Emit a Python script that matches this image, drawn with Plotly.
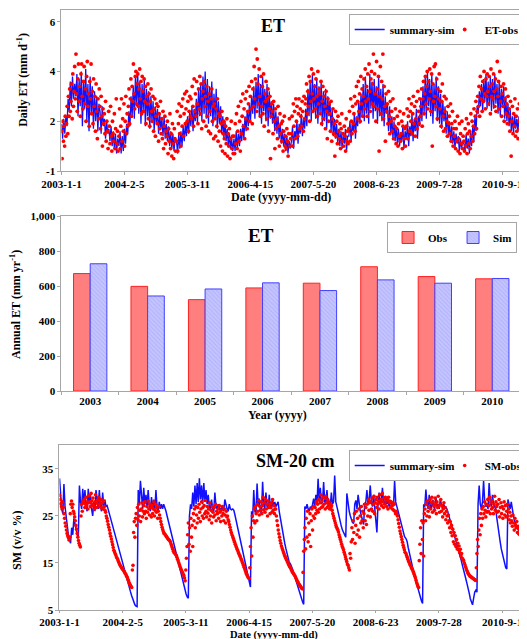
import pandas as pd
import plotly.graph_objects as go

FONT = "Liberation Serif"
YEARS = [2003, 2004, 2005, 2006, 2007, 2008, 2009, 2010]

# ---------------- Daily ET (mm/d) ----------------
# simulated ET, read weekly (Jan..Dec)
et_sim_2003 = [1.9, 1.3, 2.1, 1.5, 2.2, 1.8, 2.9, 2.4, 3.6, 2.6, 3.8, 2.9, 3.5, 3.0, 3.9, 2.2, 3.7,
               2.6, 4.0, 1.8, 3.6, 2.5, 4.1, 2.0, 3.5, 1.6, 3.8, 2.3, 3.4, 1.7, 3.2, 2.0, 3.0, 1.6, 2.7,
               2.4, 1.5, 2.6, 1.8, 2.1, 1.3, 2.0, 1.5, 1.7, 1.2, 1.8, 1.0, 1.6, 0.9, 1.5, 0.7, 1.3]
et_sim_2004 = [1.0, 1.6, 0.7, 1.4, 0.8, 1.7, 1.1, 1.9, 1.5, 2.4, 1.8, 3.0, 2.2, 3.4, 2.1, 3.8, 2.6,
               4.0, 2.3, 3.6, 1.9, 3.5, 2.4, 3.7, 1.8, 3.3, 2.2, 3.2, 1.7, 3.0, 2.0, 2.8, 1.6, 2.6, 1.9,
               2.5, 1.5, 2.3, 1.7, 2.1, 1.4, 2.2, 1.3, 1.9, 1.2, 1.8, 1.0, 1.6, 0.9, 1.5, 0.8, 1.3]
et_sim_2005 = [1.2, 0.7, 1.5, 0.9, 1.6, 1.0, 1.8, 1.2, 1.9, 1.4, 2.2, 1.5, 2.4, 1.8, 2.6, 1.6, 2.5,
               2.0, 2.9, 1.9, 3.3, 2.2, 3.5, 2.0, 3.8, 2.3, 4.0, 2.1, 3.7, 1.9, 3.4, 2.2, 3.6, 1.8, 3.1,
               2.1, 3.3, 1.7, 2.8, 1.9, 2.6, 1.5, 2.2, 1.3, 2.0, 1.2, 1.7, 1.0, 1.5, 0.9, 1.3, 0.8]
et_sim_2006 = [1.3, 0.8, 1.6, 0.9, 1.5, 1.0, 1.7, 1.2, 1.9, 1.3, 2.2, 1.6, 2.4, 1.8, 2.7, 2.0, 3.0,
               2.3, 3.4, 2.1, 3.6, 2.5, 3.9, 2.2, 3.5, 1.9, 3.8, 2.4, 3.3, 2.0, 3.5, 1.8, 3.2, 2.1, 2.8,
               1.9, 2.7, 1.6, 2.4, 1.5, 2.2, 1.3, 1.9, 1.1, 1.7, 1.0, 1.5, 0.8, 1.4, 0.7, 1.2, 0.9]
et_sim_2007 = [1.2, 1.8, 0.9, 1.6, 1.3, 2.0, 1.1, 1.9, 1.5, 2.3, 1.4, 2.1, 1.7, 2.5, 1.8, 3.3, 2.2,
               3.6, 2.0, 3.9, 2.4, 3.5, 2.1, 3.7, 1.9, 3.4, 2.3, 3.6, 1.8, 3.2, 2.0, 3.3, 1.7, 3.0, 2.2,
               2.8, 1.6, 2.5, 1.4, 2.1, 1.3, 1.9, 1.1, 1.7, 1.0, 1.6, 0.9, 1.5, 1.1, 1.7, 0.8, 1.4]
et_sim_2008 = [1.4, 2.0, 1.2, 1.9, 1.6, 2.3, 1.3, 2.2, 1.8, 2.8, 1.9, 3.1, 2.2, 3.5, 2.0, 3.8, 2.3,
               3.3, 1.9, 3.9, 2.5, 3.6, 2.1, 3.7, 2.4, 3.4, 1.9, 3.8, 2.2, 3.3, 2.0, 3.5, 1.8, 3.0, 2.3,
               2.7, 1.6, 2.6, 1.5, 2.2, 1.3, 2.0, 1.2, 1.8, 1.1, 1.7, 1.0, 1.5, 1.2, 1.8, 0.9, 1.6]
et_sim_2009 = [1.3, 2.0, 1.0, 1.8, 1.4, 2.3, 1.2, 2.1, 1.6, 2.5, 1.3, 2.2, 1.8, 2.9, 2.0, 3.4, 2.3,
               3.8, 2.1, 4.0, 2.6, 3.7, 2.2, 3.9, 1.9, 3.5, 2.4, 3.8, 2.0, 3.4, 1.9, 3.1, 1.7, 2.8, 2.0,
               2.6, 1.5, 2.4, 1.4, 2.0, 1.2, 1.8, 1.1, 1.6, 0.9, 1.5, 1.1, 1.4, 0.8, 1.3, 0.9, 1.2]
et_sim_2010 = [1.1, 0.8, 1.5, 0.9, 1.3, 0.7, 1.6, 1.0, 1.8, 1.2, 2.2, 1.6, 2.6, 2.3, 3.2, 2.6, 3.5,
               2.4, 3.7, 2.8, 3.9, 2.5, 3.6, 2.6, 3.8, 2.4, 3.7, 2.5, 3.9, 2.7, 3.5, 2.3, 3.6, 2.2, 3.3,
               2.6, 3.4, 2.1, 3.0, 2.0, 2.7, 1.8, 2.5, 1.6, 2.2, 1.5, 2.3, 1.7, 2.1, 1.6, 2.2, 1.8]

# observed ET, read every 4 days (Jan..Dec)
et_obs_2003 = [1.6, 0.5, 2.0, 1.2, 1.8, 1.0, 2.2, 1.4, 1.9, 2.6, 1.5, 3.0, 2.2, 3.3, 2.4,
               2.8, 3.5, 2.1, 3.9, 2.6, 3.2, 4.2, 2.9, 4.7, 3.1, 2.4, 3.7, 4.3, 2.8, 3.4,
               2.2, 3.9, 4.3, 3.0, 2.5, 3.6, 4.2, 2.7, 3.3, 2.0, 3.8, 4.4, 2.6, 3.1, 1.8,
               3.6, 2.9, 4.3, 2.3, 3.2, 1.9, 3.7, 2.6, 3.0, 1.6, 3.5, 2.4, 1.3, 2.9, 2.1, 3.3,
               2.6, 1.7, 3.0, 2.2, 1.0, 2.5, 1.9, 2.3, 1.5, 2.8, 1.2, 2.0, 1.6, 0.9, 2.4,
               1.8, 1.1, 2.6, 1.4, 0.8, 2.0, 1.5, 1.2, 2.3, 0.9, 1.7, 2.9, 1.1, 1.6, 0.8]
et_obs_2004 = [1.4, 2.5, 0.9, 1.8, 2.9, 1.2, 2.1, 1.6, 2.7, 1.0, 2.0, 3.0, 1.5, 2.3, 1.8,
               2.6, 3.3, 1.9, 2.9, 3.7, 2.2, 3.4, 2.8, 4.3, 3.1, 2.5, 3.8, 4.0, 2.7, 3.5,
               3.9, 2.6, 3.3, 4.1, 2.9, 3.6, 2.3, 3.8, 3.2, 2.4, 3.7, 2.8, 3.4, 1.9, 3.0,
               2.7, 3.5, 2.1, 3.1, 1.8, 2.8, 3.3, 2.4, 2.0, 3.0, 1.6, 2.5, 2.9, 1.4, 2.2, 2.7,
               1.9, 2.6, 1.2, 2.3, 1.7, 2.8, 1.5, 2.1, 1.3, 2.4, 0.9, 1.8, 2.2, 1.1, 1.6,
               1.4, 2.0, 0.7, 1.7, 1.2, 2.3, 0.9, 1.5, 0.6, 1.9, 1.1, 0.5, 1.7, 1.3, 0.8]
et_obs_2005 = [1.2, 2.4, 0.8, 1.9, 2.7, 1.5, 2.2, 1.0, 2.6, 1.8, 2.9, 1.4, 2.3, 3.1, 1.9,
               2.5, 3.2, 2.0, 2.8, 1.6, 2.4, 3.0, 2.2, 2.9, 2.1, 3.4, 2.6, 1.8, 3.7, 2.4,
               3.1, 2.2, 3.6, 2.7, 1.9, 3.3, 2.5, 3.8, 2.3, 3.5, 1.7, 2.9, 3.2, 2.0, 3.6,
               2.6, 3.0, 1.8, 3.4, 2.2, 2.8, 1.6, 3.1, 2.4, 1.5, 2.9, 3.3, 2.0, 2.6, 1.3, 2.7,
               2.1, 1.4, 2.5, 1.8, 2.9, 1.2, 2.3, 1.6, 2.2, 1.0, 1.9, 2.4, 0.8, 1.5, 2.0,
               1.3, 0.7, 1.8, 1.1, 2.1, 0.6, 1.5, 1.0, 1.7, 0.5, 1.3, 2.0, 0.9, 1.4, 0.7]
et_obs_2006 = [1.4, 0.7, 1.9, 1.1, 2.3, 0.9, 1.6, 2.6, 1.2, 2.0, 0.8, 2.8, 1.5, 2.2, 3.1,
               1.8, 2.5, 1.3, 2.9, 2.1, 3.2, 1.7, 2.4, 2.7, 3.4, 2.0, 3.0, 2.5, 3.6, 1.9,
               3.3, 2.6, 4.2, 2.9, 3.7, 4.9, 2.4, 4.5, 3.5, 2.7, 4.1, 3.0, 2.2, 3.8, 2.6,
               3.4, 2.3, 3.9, 1.8, 3.1, 2.8, 3.6, 2.1, 2.9, 3.3, 1.6, 2.5, 3.0, 0.5, 2.2, 2.7,
               2.4, 1.5, 2.8, 2.0, 0.9, 2.5, 1.7, 2.1, 1.3, 2.6, 1.8, 1.0, 2.3, 1.5, 1.9,
               1.2, 2.0, 0.8, 1.6, 2.2, 1.0, 1.4, 0.9, 1.7, 1.2, 0.6, 1.5, 2.1, 1.0, 1.3]
et_obs_2007 = [1.5, 2.2, 1.0, 2.7, 1.8, 2.4, 1.3, 2.9, 2.0, 2.6, 1.4, 2.3, 2.9, 1.7, 2.5,
               2.2, 1.8, 2.8, 2.4, 1.6, 3.0, 2.1, 2.7, 2.9, 3.5, 2.3, 3.2, 2.6, 3.8, 2.0,
               3.6, 2.8, 4.1, 3.1, 2.4, 3.9, 2.9, 3.4, 2.5, 3.7, 3.0, 2.2, 4.0, 2.7, 3.3,
               3.1, 2.3, 3.6, 1.9, 2.8, 3.4, 2.1, 3.0, 2.6, 1.7, 3.2, 2.4, 1.3, 2.9, 2.0, 2.7,
               2.3, 1.6, 2.8, 1.2, 2.1, 2.5, 1.5, 1.9, 0.6, 2.4, 1.4, 2.0, 1.1, 2.2, 1.6,
               1.3, 1.9, 0.9, 1.7, 2.3, 1.2, 1.5, 1.0, 1.8, 1.4, 0.8, 2.1, 1.2, 1.6, 1.1]
et_obs_2008 = [1.7, 2.4, 1.2, 2.9, 2.0, 1.5, 2.6, 1.9, 2.3, 3.0, 1.6, 2.7, 3.4, 2.1, 2.8,
               3.6, 2.4, 3.1, 2.0, 3.8, 2.7, 3.3, 2.2, 3.0, 3.7, 2.5, 4.1, 2.8, 3.4, 2.2,
               3.9, 2.9, 4.3, 3.2, 2.4, 3.7, 4.0, 2.7, 3.5, 4.7, 2.6, 3.9, 3.1, 2.0, 4.4,
               3.3, 2.5, 3.8, 0.8, 3.0, 4.2, 2.3, 3.6, 2.9, 4.7, 2.1, 3.4, 2.6, 1.2, 3.1, 2.4,
               2.7, 1.9, 3.2, 2.2, 1.5, 2.8, 2.0, 2.4, 1.6, 2.9, 1.3, 2.1, 1.8, 2.5, 1.1,
               1.7, 2.2, 1.0, 1.9, 1.4, 2.4, 1.2, 1.5, 2.0, 0.9, 1.8, 2.3, 1.3, 1.7, 1.0]
et_obs_2009 = [1.8, 2.5, 1.3, 2.2, 2.9, 1.6, 2.4, 2.0, 2.7, 1.5, 2.3, 3.0, 1.9, 2.6, 1.4,
               2.1, 2.8, 1.7, 3.2, 2.4, 1.9, 2.9, 2.2, 2.6, 3.3, 1.8, 2.9, 3.6, 2.3, 3.1,
               3.8, 2.7, 3.4, 4.0, 2.5, 3.6, 2.9, 4.1, 3.2, 2.4, 3.9, 1.0, 3.5, 2.8, 4.2,
               3.0, 4.3, 2.6, 3.7, 2.1, 3.3, 2.9, 3.9, 2.5, 3.2, 1.8, 2.8, 3.5, 2.2, 1.6, 3.0,
               2.4, 1.7, 2.9, 2.0, 1.4, 2.6, 1.9, 2.2, 1.5, 2.7, 1.2, 1.9, 2.4, 1.0, 1.7,
               1.4, 2.0, 0.9, 1.7, 1.2, 2.2, 0.8, 1.3, 1.9, 0.7, 1.5, 1.1, 2.0, 0.9, 1.4]
et_obs_2010 = [1.2, 0.8, 1.7, 1.0, 2.1, 0.7, 1.5, 1.9, 1.1, 1.6, 0.9, 2.3, 1.4, 2.0, 1.2,
               1.8, 2.5, 1.5, 2.2, 2.8, 1.7, 2.4, 3.0, 2.6, 3.4, 2.2, 3.8, 2.9, 3.3, 2.4,
               3.6, 2.8, 4.0, 3.1, 2.5, 3.7, 3.0, 3.9, 3.2, 2.7, 3.8, 3.4, 2.3, 4.1, 3.0,
               3.5, 2.9, 3.9, 3.2, 2.6, 3.7, 2.4, 3.3, 4.4, 3.0, 3.6, 2.5, 4.0, 2.8, 3.4, 2.2,
               3.1, 2.6, 3.5, 2.0, 2.9, 3.3, 2.3, 2.7, 1.9, 3.0, 2.2, 2.5, 1.6, 2.8, 0.6,
               2.0, 2.6, 1.5, 2.3, 1.8, 2.9, 1.4, 2.2, 1.6, 2.5, 1.3, 2.0, 2.7, 1.7, 2.1]

# ---------------- Annual ET (mm/yr) ----------------
annual_years = ["2003", "2004", "2005", "2006", "2007", "2008", "2009", "2010"]
annual_obs = [671, 598, 522, 589, 616, 710, 654, 641]
annual_sim = [727, 543, 583, 618, 574, 635, 616, 643]

# ---------------- Soil moisture at 20 cm (v/v %) ----------------
# simulated SM, read weekly
sm_sim_2003 = [33.0, 28.5, 26.5, 25.5, 31.8, 27.0, 24.5, 22.5, 21.0, 20.0, 19.2, 22.5, 21.0, 24.5,
               23.0, 21.5, 21.0, 20.5, 31.5, 28.0, 26.5, 30.8, 27.5, 30.5, 27.0, 26.0, 30.8, 27.5,
               29.5, 26.5, 25.0, 28.0, 26.0, 30.5, 27.5, 26.5, 30.5, 27.0, 26.0, 30.0, 27.0, 28.5,
               27.0, 27.2, 26.4, 25.5, 24.6, 23.8, 22.9, 22.0, 21.2, 20.3]
sm_sim_2004 = [19.4, 18.5, 17.6, 16.8, 15.9, 15.0, 14.1, 13.3, 12.4, 11.5, 10.7, 9.8, 8.9, 8.1,
               7.3, 6.6, 6.1, 5.8, 5.7, 30.5, 27.5, 32.5, 28.0, 26.5, 31.0, 27.5, 29.5, 26.8,
               30.5, 27.0, 26.0, 29.0, 26.5, 28.5, 26.0, 30.5, 27.0, 26.0, 28.0, 26.5, 27.5, 26.5,
               27.5, 26.9, 26.1, 25.1, 24.1, 23.1, 22.2, 21.2, 20.2, 19.2]
sm_sim_2005 = [18.3, 17.3, 16.3, 15.3, 14.4, 13.4, 12.4, 11.4, 10.4, 9.4, 8.4, 7.8, 7.5, 25.0,
               27.5, 26.5, 30.0, 27.0, 31.5, 27.5, 32.0, 28.0, 33.0, 28.5, 31.5, 27.5, 32.0, 28.0,
               30.5, 27.5, 29.5, 26.8, 26.5, 28.5, 26.5, 26.0, 30.0, 27.0, 26.5, 27.5, 26.5, 26.0,
               27.0, 26.5, 26.0, 28.5, 27.0, 26.5, 26.0, 27.5, 26.5, 26.3]
sm_sim_2006 = [26.5, 26.2, 25.2, 24.1, 23.0, 21.9, 20.7, 19.6, 18.4, 17.3, 16.1, 15.0, 13.8, 12.6,
               11.5, 10.5, 9.9, 26.0, 24.5, 30.5, 26.0, 25.5, 31.9, 27.0, 28.7, 26.0, 25.5, 32.3,
               27.5, 26.5, 30.0, 27.0, 26.5, 29.5, 27.0, 26.5, 28.5, 27.0, 28.0, 27.0, 27.5, 28.0,
               26.0, 24.5, 22.8, 21.5, 20.3, 19.2, 18.1, 17.1, 16.2, 15.2]
sm_sim_2007 = [14.8, 14.3, 13.6, 12.8, 12.0, 11.3, 10.5, 9.7, 8.9, 8.0, 7.3, 6.7, 6.2, 27.0,
               26.5, 27.5, 26.5, 26.0, 27.0, 26.5, 27.5, 28.7, 27.0, 29.5, 27.5, 32.9, 28.0, 31.0,
               27.5, 28.0, 32.2, 28.0, 27.5, 30.5, 27.5, 28.0, 27.0, 30.0, 27.5, 28.0, 33.6, 28.0,
               27.0, 25.8, 24.6, 23.7, 22.8, 22.0, 21.4, 20.8, 20.5, 29.8]
sm_sim_2008 = [27.5, 26.0, 25.0, 24.2, 23.6, 23.4, 27.5, 28.3, 26.5, 29.5, 27.0, 26.0, 25.0, 24.0,
               23.2, 27.5, 28.0, 30.5, 27.5, 28.5, 31.5, 28.0, 27.0, 29.5, 26.5, 24.0, 21.5, 27.5,
               30.0, 27.5, 28.0, 31.0, 28.0, 27.5, 29.0, 27.5, 28.5, 27.0, 28.0, 27.5, 28.0, 27.0,
               32.5, 28.0, 27.0, 26.0, 25.0, 24.0, 23.0, 22.2, 21.4, 20.6]
sm_sim_2009 = [20.2, 19.6, 18.3, 17.1, 16.0, 14.9, 13.9, 13.0, 12.0, 11.1, 10.2, 9.3, 8.4, 7.6,
               6.9, 6.4, 27.5, 27.0, 30.6, 27.5, 26.5, 29.5, 27.0, 26.5, 28.5, 27.0, 26.5, 29.0,
               27.0, 27.5, 26.5, 28.5, 27.0, 26.5, 27.5, 27.0, 26.9, 26.5, 25.7, 24.9, 24.0, 23.2,
               22.4, 21.5, 20.7, 19.9, 19.0, 18.2, 17.4, 16.6, 15.5, 14.5]
sm_sim_2010 = [13.6, 12.6, 11.6, 10.6, 9.8, 8.6, 7.4, 6.5, 6.1, 7.5, 8.8, 9.2, 8.8, 27.5,
               31.5, 27.5, 26.5, 28.0, 32.5, 28.0, 27.0, 27.5, 26.5, 32.0, 28.0, 27.0, 29.5, 27.5,
               27.0, 26.5, 24.5, 22.5, 21.0, 19.5, 18.0, 16.8, 15.6, 14.8, 14.0, 13.7, 28.5, 27.5,
               26.5, 28.0, 26.0, 25.0, 24.0, 23.3, 22.7, 22.2, 21.8, 21.5]

# observed SM, read every 4 days
sm_obs_2003 = [29.4, 28.5, 27.6, 27.0, 26.5, 28.0, 26.8, 25.5, 24.5, 23.5, 22.8, 22.0, 21.3, 20.8, 20.4,
               19.9, 20.5, 25.5, 27.5, 28.2, 26.8, 27.5, 26.0, 25.5, 24.8, 24.0, 23.0, 22.2, 21.3, 20.5,
               19.8, 19.2, 18.8, 18.4, 25.0, 27.5, 26.0, 28.0, 27.8, 28.5, 26.8, 27.5, 29.0, 27.2, 28.0,
               26.5, 27.8, 29.3, 28.0, 27.0, 29.8, 28.2, 27.5, 28.8, 27.2, 26.5, 28.0, 29.5, 27.8, 26.8, 28.4,
               27.5, 29.0, 28.2, 26.9, 27.6, 28.5, 26.7, 27.8, 26.5, 28.2, 27.0, 26.2, 25.8, 25.0, 24.5,
               23.9, 23.2, 22.6, 22.0, 21.3, 20.7, 20.1, 19.5, 18.9, 18.3, 17.7, 17.4, 17.0, 16.7, 16.3]
sm_obs_2004 = [16.0, 15.7, 15.3, 15.0, 14.7, 14.4, 14.2, 14.0, 13.8, 13.6, 13.4, 13.2, 12.9, 12.7, 12.5,
               12.2, 11.9, 11.5, 11.2, 10.8, 10.5, 10.2, 10.0, 9.8, 13.5, 14.5, 21.5, 23.8, 20.5, 24.5,
               25.5, 23.0, 26.8, 24.2, 27.5, 25.0, 26.2, 23.8, 26.5, 27.8, 24.8, 26.0, 27.2, 25.5, 28.0,
               26.0, 24.5, 27.0, 25.8, 28.2, 26.5, 25.2, 27.5, 26.8, 24.8, 27.2, 25.5, 26.5, 28.0, 25.0, 26.2,
               27.5, 25.8, 26.8, 24.5, 26.0, 27.0, 25.2, 24.5, 23.8, 23.2, 22.6, 22.1, 21.7, 21.3, 21.2,
               21.0, 20.8, 20.6, 20.4, 20.2, 20.0, 19.9, 19.8, 19.5, 19.1, 18.7, 18.3, 17.9, 17.5, 17.2]
sm_obs_2005 = [17.0, 16.8, 16.6, 16.2, 15.8, 15.4, 15.0, 14.6, 14.2, 13.8, 13.5, 13.2, 12.9, 12.6, 12.3,
               11.8, 11.2, 13.5, 16.0, 18.5, 21.0, 23.5, 19.0, 22.5, 17.5, 24.5, 20.5, 23.0, 18.5, 25.5,
               24.0, 26.5, 22.5, 27.0, 25.2, 23.5, 26.8, 24.5, 27.5, 25.8, 23.8, 26.5, 28.0, 25.0, 26.8,
               24.5, 27.2, 25.5, 28.3, 26.0, 24.8, 27.0, 25.6, 26.5, 24.2, 27.8, 25.0, 26.2, 23.5, 27.0, 25.8,
               24.8, 26.8, 25.2, 27.5, 24.0, 26.0, 25.5, 26.5, 24.5, 27.2, 25.8, 23.8, 26.2, 25.0, 27.0,
               25.5, 24.0, 26.5, 25.2, 23.5, 26.0, 24.8, 25.0, 24.2, 23.8, 23.2, 22.6, 22.0, 21.5, 21.0]
sm_obs_2006 = [20.6, 20.2, 19.8, 19.4, 19.0, 18.6, 18.3, 17.9, 17.6, 17.2, 16.9, 16.6, 16.3, 15.9, 15.6,
               15.2, 14.9, 14.5, 14.1, 13.7, 13.3, 12.9, 12.6, 12.3, 12.0, 11.8, 11.7, 14.0, 18.5, 22.5,
               16.5, 25.0, 20.5, 24.0, 26.5, 23.5, 27.0, 25.5, 24.0, 27.5, 26.0, 28.3, 25.2, 27.0, 26.2,
               28.0, 25.5, 27.2, 29.0, 26.3, 27.8, 25.8, 28.5, 26.5, 27.5, 25.0, 28.2, 26.8, 27.5, 25.5, 26.8,
               27.8, 25.8, 28.5, 26.2, 27.2, 25.5, 26.5, 26.5, 25.0, 24.0, 23.0, 22.0, 21.2, 20.5, 19.8,
               19.2, 18.6, 18.2, 17.8, 17.4, 17.0, 16.6, 16.3, 16.0, 15.7, 15.4, 15.1, 14.8, 14.5, 14.2]
sm_obs_2007 = [14.0, 13.7, 13.4, 13.1, 12.9, 12.7, 12.5, 12.3, 12.0, 11.7, 11.4, 11.1, 10.9, 10.6, 10.4,
               10.2, 10.0, 9.8, 9.6, 9.5, 13.0, 17.5, 20.0, 22.5, 18.0, 24.5, 20.5, 26.0, 19.5, 23.5,
               21.0, 25.5, 18.5, 24.0, 26.5, 22.0, 25.0, 27.0, 24.5, 26.8, 25.5, 28.0, 26.2, 27.5, 25.8,
               28.5, 26.5, 27.8, 29.5, 26.8, 28.2, 27.0, 29.0, 27.5, 28.8, 26.5, 29.2, 27.8, 26.8, 28.5, 27.2,
               28.0, 26.5, 27.5, 26.8, 27.2, 26.2, 25.5, 25.0, 24.5, 24.0, 23.5, 23.0, 22.6, 22.3, 22.0,
               21.6, 21.0, 20.5, 20.0, 19.5, 19.0, 18.5, 18.2, 17.8, 17.3, 16.8, 16.3, 15.8, 15.3, 14.8]
sm_obs_2008 = [14.5, 14.0, 13.5, 17.0, 16.0, 19.5, 22.5, 20.0, 24.0, 21.5, 25.5, 19.2, 23.0, 26.0, 21.0,
               24.5, 22.0, 26.5, 20.5, 25.0, 23.5, 27.0, 24.0, 26.0, 22.5, 25.5, 27.5, 24.0, 26.8, 23.2,
               27.5, 25.0, 28.5, 26.2, 27.8, 24.8, 28.0, 26.5, 28.8, 26.0, 27.5, 29.2, 25.5, 27.8, 28.5,
               26.8, 29.0, 27.5, 28.2, 26.5, 29.5, 27.8, 28.5, 27.2, 29.8, 28.0, 26.8, 28.8, 27.5, 29.0, 28.2,
               27.0, 28.5, 26.5, 29.0, 27.8, 28.2, 26.8, 28.0, 27.2, 26.5, 27.8, 26.2, 27.5, 26.0, 25.5,
               26.0, 25.5, 25.0, 24.2, 23.4, 22.6, 21.8, 21.2, 20.6, 20.0, 19.4, 18.8, 18.3, 17.8, 17.3]
sm_obs_2009 = [17.0, 16.6, 16.2, 15.8, 15.4, 15.1, 14.8, 14.5, 14.2, 13.9, 13.6, 13.3, 13.0, 12.6, 12.2,
               11.8, 11.3, 10.8, 10.4, 10.0, 9.8, 15.5, 19.0, 22.5, 17.0, 24.0, 20.0, 23.5, 16.5, 25.5,
               26.5, 24.0, 27.5, 25.0, 28.2, 26.0, 27.0, 24.8, 28.5, 26.5, 27.8, 29.0, 25.8, 28.0, 27.2,
               26.2, 28.8, 27.5, 25.5, 28.0, 26.8, 29.2, 27.0, 25.8, 27.5, 28.5, 26.0, 27.2, 24.8, 26.5, 27.8,
               25.5, 26.8, 24.2, 26.0, 25.0, 23.5, 25.2, 24.0, 22.5, 23.8, 21.5, 23.0, 20.8, 22.2, 19.5,
               21.5, 19.0, 20.8, 18.5, 20.0, 18.0, 19.2, 17.8, 18.6, 17.2, 17.9, 16.5, 17.0, 16.0, 15.8]
sm_obs_2010 = [15.5, 15.0, 14.6, 14.2, 13.8, 13.4, 13.1, 12.8, 12.6, 12.4, 12.2, 12.1, 12.0, 11.9, 11.8,
               11.7, 11.6, 11.5, 11.4, 11.3, 14.0, 17.0, 20.0, 18.5, 22.0, 24.5, 21.0, 25.5, 23.0, 26.5,
               24.5, 27.0, 25.5, 28.0, 26.2, 24.8, 27.5, 25.8, 28.5, 26.0, 27.2, 29.0, 25.5, 27.8, 26.5,
               28.2, 26.8, 25.5, 27.5, 29.2, 26.2, 28.0, 27.0, 25.8, 27.5, 26.0, 28.5, 24.8, 26.8, 27.8, 25.5,
               27.0, 24.5, 26.5, 28.0, 25.2, 27.2, 24.8, 26.0, 27.5, 25.0, 26.5, 24.2, 25.8, 23.5, 25.0,
               24.0, 22.8, 25.2, 23.5, 22.0, 24.5, 23.0, 22.5, 23.8, 21.5, 22.8, 21.2, 22.2, 21.0, 21.8]

# ---------------- tick labels ----------------
date_tick_vals = ["2003-01-01", "2004-02-05", "2005-03-11", "2006-04-15",
                  "2007-05-20", "2008-06-23", "2009-07-28", "2010-09-01"]
date_tick_text = ["2003-1-1", "2004-2-5", "2005-3-11", "2006-4-15",
                  "2007-5-20", "2008-6-23", "2009-7-28", "2010-9-1"]
et_tick_vals = [0, 2, 4, 6]
et_tick_text = ["-1", "2", "4", "6"]
sm_tick_vals = [5, 15, 25, 35]


def stack(series, step):
    xs, ys = [], []
    for year, vals in zip(YEARS, series):
        xs.extend(pd.date_range(f"{year}-01-01", periods=len(vals), freq=step))
        ys.extend(vals)
    return xs, ys


et_sim_x, et_sim_y = stack([et_sim_2003, et_sim_2004, et_sim_2005, et_sim_2006,
                            et_sim_2007, et_sim_2008, et_sim_2009, et_sim_2010], "7D")
et_obs_x, et_obs_y = stack([et_obs_2003, et_obs_2004, et_obs_2005, et_obs_2006,
                            et_obs_2007, et_obs_2008, et_obs_2009, et_obs_2010], "4D")
sm_sim_x, sm_sim_y = stack([sm_sim_2003, sm_sim_2004, sm_sim_2005, sm_sim_2006,
                            sm_sim_2007, sm_sim_2008, sm_sim_2009, sm_sim_2010], "7D")
sm_obs_x, sm_obs_y = stack([sm_obs_2003, sm_obs_2004, sm_obs_2005, sm_obs_2006,
                            sm_obs_2007, sm_obs_2008, sm_obs_2009, sm_obs_2010], "4D")

# the page body has an 8 px margin; the figure is sized to fill the rest of the window
OFF = 8
W, H = 527 - OFF, 639 - OFF


def px(x):
    return (x - OFF) / W


def py(y):
    return 1 - (y - OFF) / H


BLUE = "#1010FF"
RED = "#FF0000"
AX = "#A6A6A6"

fig = go.Figure()
fig.add_trace(go.Scatter(x=et_sim_x, y=et_sim_y, mode="lines", name="summary-sim", legendwidth=50,
                         line=dict(color=BLUE, width=1.3), xaxis="x", yaxis="y", legend="legend"))
fig.add_trace(go.Scatter(x=et_obs_x, y=et_obs_y, mode="markers", name="ET-obs", legendwidth=33,
                         marker=dict(color=RED, size=3.8), xaxis="x", yaxis="y", legend="legend"))
fig.add_trace(go.Bar(x=annual_years, y=annual_obs, name="Obs", xaxis="x2", yaxis="y2", legend="legend2",
                     legendwidth=20, marker=dict(color="#FF7F7F", line=dict(color="#FF2020", width=1))))
fig.add_trace(go.Bar(x=annual_years, y=annual_sim, name="Sim", xaxis="x2", yaxis="y2", legend="legend2",
                     legendwidth=18,
                     marker=dict(color="#BDBDFF", line=dict(color="#4040FF", width=1),
                                 pattern=dict(shape="\\", fgcolor="#9C9CF2", bgcolor="#C4C4FF",
                                              size=3, solidity=0.3))))
fig.add_trace(go.Scatter(x=sm_sim_x, y=sm_sim_y, mode="lines", name="summary-sim", legendwidth=50,
                         line=dict(color=BLUE, width=1.5), xaxis="x3", yaxis="y3", legend="legend3"))
fig.add_trace(go.Scatter(x=sm_obs_x, y=sm_obs_y, mode="markers", name="SM-obs", legendwidth=36,
                         marker=dict(color=RED, size=3.6), xaxis="x3", yaxis="y3", legend="legend3"))

tickfont = dict(family=FONT, size=11, color="black", weight="bold")
common = dict(showline=True, linecolor=AX, linewidth=1, mirror=True, ticks="outside", ticklen=3,
              tickcolor=AX, showgrid=False, zeroline=False, tickfont=tickfont, automargin=False)
legfont = dict(family=FONT, size=11, color="black", weight="bold")

fig.update_layout(
    width=W, height=H, margin=dict(l=0, r=0, t=0, b=0),
    paper_bgcolor="white", plot_bgcolor="white",
    barmode="group", bargap=0.42, bargroupgap=0.0,
    font=dict(family=FONT, size=11, color="black"),
    xaxis=dict(common, type="date", domain=[px(62), 1.0], anchor="y",
               range=["2003-01-01", "2011-01-05"], tickvals=date_tick_vals, ticktext=date_tick_text),
    yaxis=dict(common, domain=[py(171), py(10)], anchor="x", range=[0, 6.47],
               tickvals=et_tick_vals, ticktext=et_tick_text),
    xaxis2=dict(common, type="category", domain=[px(62), px(526)], anchor="y2", tickson="boundaries"),
    yaxis2=dict(common, domain=[py(391), py(216)], anchor="x2", range=[0, 1000], dtick=200,
                tickformat=",d"),
    xaxis3=dict(common, type="date", domain=[px(60), 1.0], anchor="y3", ticklen=2,
                range=["2003-01-01", "2011-01-05"], tickvals=date_tick_vals, ticktext=date_tick_text),
    yaxis3=dict(common, domain=[py(610), py(445)], anchor="x3", range=[5, 40.1],
                tickvals=sm_tick_vals),
    legend=dict(x=px(352), y=py(14), xanchor="left", yanchor="top", orientation="h",
                bordercolor=AX, borderwidth=1, bgcolor="white", font=legfont),
    legend2=dict(x=px(522), y=py(222), xanchor="right", yanchor="top", orientation="h",
                 bordercolor=AX, borderwidth=1, bgcolor="white", font=legfont),
    legend3=dict(x=px(352), y=py(450), xanchor="left", yanchor="top", orientation="h",
                 bordercolor=AX, borderwidth=1, bgcolor="white", font=legfont),
)


def label(text, x, y, size, angle=0):
    fig.add_annotation(text=text, x=px(x), y=py(y), xref="paper", yref="paper", showarrow=False,
                       textangle=angle, xanchor="center", yanchor="middle",
                       font=dict(family=FONT, size=size, color="black", weight="bold"))


label("ET", 276, 26, 18)
label("ET", 263, 235, 19)
label("SM-20 cm", 298, 461, 18)
label("Daily ET (mm d<sup>-1</sup>)", 23, 80, 12, -90)
label("Annual ET (mm yr<sup>-1</sup>)", 15, 304, 12, -90)
label("SM (v/v %)", 17, 540, 12, -90)
label("Date (yyyy-mm-dd)", 284, 197, 12)
label("Year (yyyy)", 280, 415, 12)
label("Date (yyyy-mm-dd)", 277, 634.5, 10.5)

fig.write_html("out.html")
